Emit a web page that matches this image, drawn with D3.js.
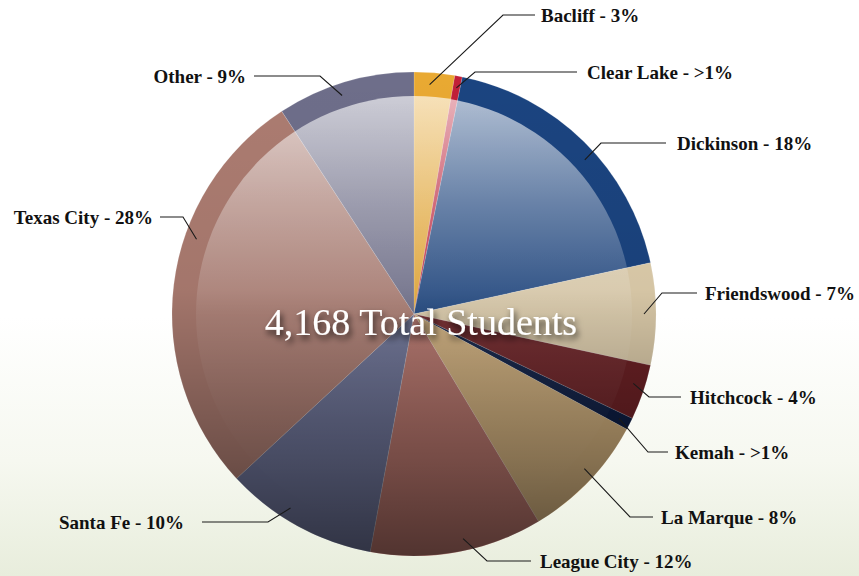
<!DOCTYPE html>
<html>
<head>
<meta charset="utf-8">
<script src="https://cdn.jsdelivr.net/npm/d3@7"></script>
<style>
  html, body { margin: 0; padding: 0; }
  body { width: 859px; height: 576px; overflow: hidden; }
  .lbl { font-family: "Liberation Serif", "DejaVu Serif", serif; font-weight: bold; font-size: 19px; fill: #111; }
</style>
</head>
<body>
<div id="chart"></div>
<script>
// data, clockwise from 12 o'clock
const categories = ["Bacliff", "Clear Lake", "Dickinson", "Friendswood", "Hitchcock", "Kemah",
  "La Marque", "League City", "Santa Fe", "Texas City", "Other"];
const shares = [2.7, 0.5, 18.4, 6.8, 3.7, 0.8, 8.5, 11.5, 10.2, 27.7, 9.2];
const labelText = ["Bacliff - 3%", "Clear Lake - >1%", "Dickinson - 18%", "Friendswood - 7%",
  "Hitchcock - 4%", "Kemah - >1%", "La Marque - 8%", "League City - 12%", "Santa Fe - 10%",
  "Texas City - 28%", "Other - 9%"];
const totalLabel = "4,168 Total Students";

const colors = ["#e9a932", "#c11f38", "#1b4480", "#e0cfad", "#6e2226", "#0e1e44",
  "#cfae7c", "#b5736a", "#6c7296", "#ac7c71", "#6e6e8a"];

// label layout: where the leader bends, where the line stops, where the text sits
const labelLayout = [
  { t: 0.4, bend: [503, 15], end: 535, tx: 541, side: "r" },
  { t: 0.5, bend: [475, 72], end: 577, tx: 587, side: "r" },
  { t: 0.55, bend: [601, 143], end: 666, tx: 677, side: "r" },
  { t: 0.5, bend: [662, 293], end: 697, tx: 705, side: "r" },
  { t: 0.4, bend: [649, 397], end: 681, tx: 690, side: "r" },
  { t: 0.5, bend: [648, 452], end: 668, tx: 675, side: "r" },
  { t: 0.45, bend: [630, 517], end: 653, tx: 661, side: "r" },
  { t: 0.45, bend: [487, 561], end: 531, tx: 540, side: "r" },
  { t: 0.6, bend: [268, 522], end: 202, tx: 184, side: "l" },
  { t: 0.62, bend: [183, 217], end: 160, tx: 153, side: "l" },
  { t: 0.45, bend: [320, 76], end: 254, tx: 246, side: "l" }
];

const W = 859, H = 576;
const cx = 414, cy = 314, R = 242, Rin = 218;

const svg = d3.select("#chart").append("svg")
  .attr("width", W).attr("height", H);

const defs = svg.append("defs");

// page background
const bg = defs.append("linearGradient").attr("id", "bg")
  .attr("x1", 0).attr("y1", 0).attr("x2", 0).attr("y2", 1);
bg.append("stop").attr("offset", 0).attr("stop-color", "#ffffff");
bg.append("stop").attr("offset", 0.55).attr("stop-color", "#ffffff");
bg.append("stop").attr("offset", 0.8).attr("stop-color", "#f6f8f0");
bg.append("stop").attr("offset", 1).attr("stop-color", "#e8eddc");
svg.append("rect").attr("width", W).attr("height", H).attr("fill", "url(#bg)");

// dark shading bottom of pie
const shade = defs.append("linearGradient").attr("id", "shade")
  .attr("gradientUnits", "userSpaceOnUse")
  .attr("x1", 0).attr("y1", cy - R).attr("x2", 0).attr("y2", cy + R);
[[0, 0], [0.45, 0.05], [0.8, 0.35], [1, 0.55]].forEach(s =>
  shade.append("stop").attr("offset", s[0]).attr("stop-color", "#000").attr("stop-opacity", s[1]));

// glossy inner disc
const gloss = defs.append("linearGradient").attr("id", "gloss")
  .attr("gradientUnits", "userSpaceOnUse")
  .attr("x1", 0).attr("y1", cy - Rin).attr("x2", 0).attr("y2", cy + Rin);
[[0, 0.66], [0.25, 0.35], [0.5, 0.08], [0.75, 0.02], [1, 0]].forEach(s =>
  gloss.append("stop").attr("offset", s[0]).attr("stop-color", "#fff").attr("stop-opacity", s[1]));

const shadow = defs.append("filter").attr("id", "tshadow")
  .attr("x", "-20%").attr("y", "-50%").attr("width", "140%").attr("height", "200%");
shadow.append("feDropShadow").attr("dx", 2).attr("dy", 4).attr("stdDeviation", 3)
  .attr("flood-color", "#000").attr("flood-opacity", 0.75);

const pie = d3.pie().sort(null).value(d => d).startAngle(0).endAngle(2 * Math.PI);
const arcs = pie(shares);
const arc = d3.arc().innerRadius(0).outerRadius(R);

const g = svg.append("g").attr("transform", `translate(${cx},${cy})`);

g.selectAll("path.slice")
  .data(arcs)
  .enter()
  .append("path")
  .attr("class", "slice")
  .attr("d", arc)
  .attr("fill", (d, i) => colors[i])
  .attr("stroke", "rgba(255,255,255,0.25)")
  .attr("stroke-width", 0.6);

g.append("circle").attr("r", Rin).attr("fill", "url(#gloss)")
  .attr("transform", `translate(${-cx},${-cy})`).attr("cx", cx).attr("cy", cy);
g.append("circle").attr("r", R).attr("fill", "url(#shade)")
  .attr("transform", `translate(${-cx},${-cy})`).attr("cx", cx).attr("cy", cy);

// leader lines + labels
const lines = svg.append("g");
arcs.forEach((d, i) => {
  const L = labelLayout[i];
  const a = d.startAngle + L.t * (d.endAngle - d.startAngle);
  const r = 230;
  const p0 = [cx + r * Math.sin(a), cy - r * Math.cos(a)];
  const pts = [p0, L.bend, [L.end, L.bend[1]]];
  lines.append("path")
    .attr("d", d3.line()(pts))
    .attr("fill", "none")
    .attr("stroke", "#1a1a1a")
    .attr("stroke-width", 1.1);
  lines.append("text")
    .attr("class", "lbl")
    .attr("x", L.tx)
    .attr("y", L.bend[1] + 7)
    .attr("text-anchor", L.side === "r" ? "start" : "end")
    .text(labelText[i]);
});

svg.append("text")
  .attr("x", 421).attr("y", 335)
  .attr("text-anchor", "middle")
  .attr("font-family", "'Liberation Serif', 'DejaVu Serif', serif")
  .attr("font-size", 38)
  .attr("fill", "#fff")
  .attr("filter", "url(#tshadow)")
  .text(totalLabel);
</script>
</body>
</html>
